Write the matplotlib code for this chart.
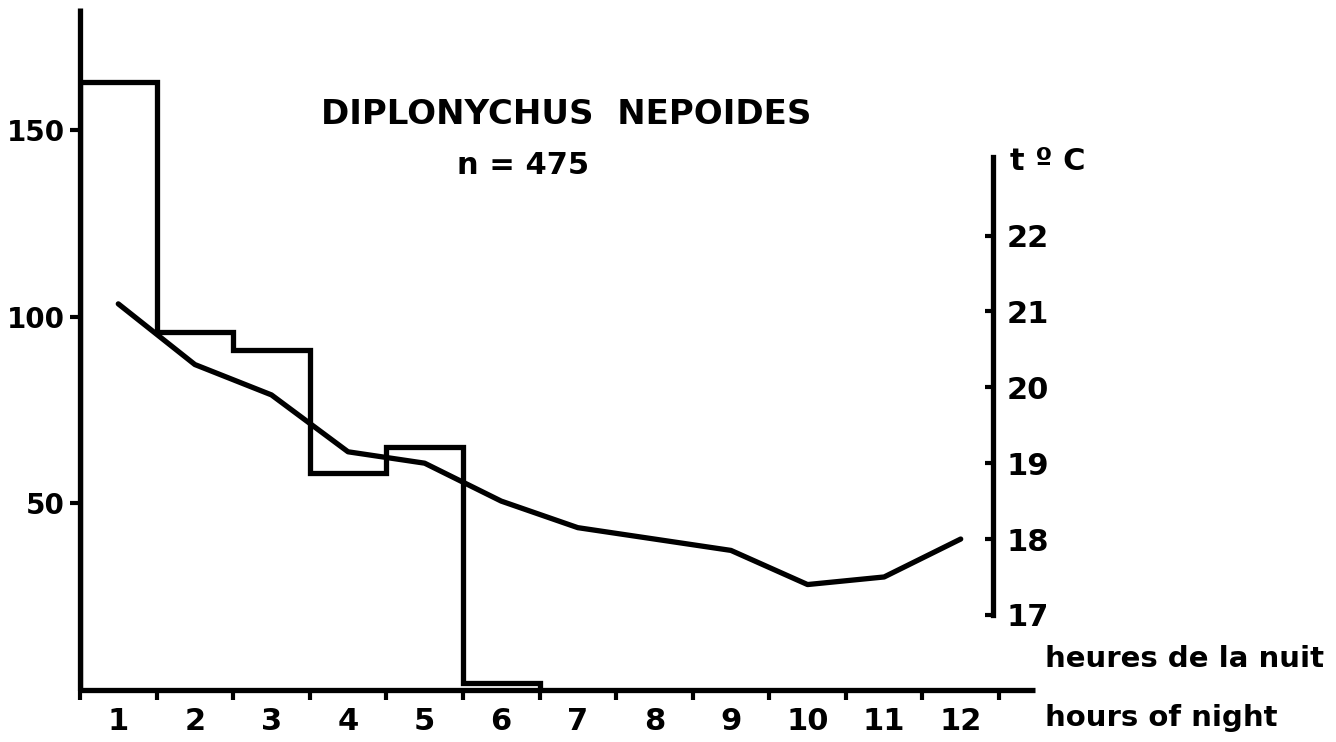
import matplotlib
matplotlib.use("Agg")
import matplotlib.pyplot as plt
import numpy as np

# ---- data ----
hours = [1, 2, 3, 4, 5, 6, 7, 8, 9, 10, 11, 12]
hour_labels = ["1", "2", "3", "4", "5", "6", "7", "8", "9", "10", "11", "12"]
bin_edges = [0.5, 1.5, 2.5, 3.5, 4.5, 5.5, 6.5]
counts = [163, 96, 91, 58, 65, 2]            # n = 475
temperature = [21.1, 20.3, 19.9, 19.15, 19.0, 18.5, 18.15, 18.0, 17.85, 17.4, 17.5, 18.0]
left_ticks = [50, 100, 150]
right_ticks = [17, 18, 19, 20, 21, 22]

plt.rcParams['font.family'] = ['DejaVu Sans']
LW = 3.8
W, H = 1336, 742
fig = plt.figure(figsize=(W / 100, H / 100), dpi=100)
ax = fig.add_axes([80 / W, 52 / H, (1035 - 80) / W, (690 - 8) / H])

ax.stairs(counts, bin_edges, color='black', linewidth=LW, baseline=0)
ax.set_xlim(0.5, 12.97)
ax.set_ylim(0, 182.7)

for s in ['top', 'right']:
    ax.spines[s].set_visible(False)
for s in ['left', 'bottom']:
    ax.spines[s].set_linewidth(LW)
    ax.spines[s].set_capstyle('butt')

ax.set_yticks(left_ticks)
ax.set_yticklabels([str(v) for v in left_ticks], fontsize=20, fontweight='bold')
ax.tick_params(axis='y', direction='out', length=7, width=3, pad=4)

ax.set_xticks(hours)
ax.set_xticklabels(hour_labels, fontsize=22, fontweight='bold')
ax.set_xticks(bin_edges + [7.5, 8.5, 9.5, 10.5, 11.5, 12.5], minor=True)
ax.tick_params(axis='x', which='major', length=0, pad=12)
ax.tick_params(axis='x', which='minor', direction='out', length=7, width=3)

ax2 = ax.twinx()
ax2.plot(hours, temperature, color='black', linewidth=LW, solid_joinstyle='round',
         solid_capstyle='round')
ax2.set_ylim(16.01, 25.0)
for s in ['top', 'left', 'bottom']:
    ax2.spines[s].set_visible(False)
ax2.spines['right'].set_position(('data', 12.42))
ax2.spines['right'].set_bounds(17, 23.03)
ax2.spines['right'].set_linewidth(LW)
ax2.set_yticks(right_ticks)
ax2.set_yticklabels([str(v) for v in right_ticks], fontsize=22, fontweight='bold')
ax2.tick_params(axis='y', direction='in', length=6, width=3, pad=10)

fig.text(1010 / W, 1 - 162 / H, "t º C", fontsize=22, fontweight='bold',
         ha='left', va='center')
fig.text(566 / W, 1 - 114 / H, "DIPLONYCHUS  NEPOIDES", fontsize=24.5,
         fontweight='bold', ha='center', va='center')
fig.text(523 / W, 1 - 165 / H, "n = 475", fontsize=22, fontweight='bold',
         ha='center', va='center')
fig.text(1045 / W, 1 - 659 / H, "heures de la nuit", fontsize=21,
         fontweight='bold', ha='left', va='center')
fig.text(1045 / W, 1 - 718 / H, "hours of night", fontsize=21,
         fontweight='bold', ha='left', va='center')

fig.savefig("out.png", dpi=100)
